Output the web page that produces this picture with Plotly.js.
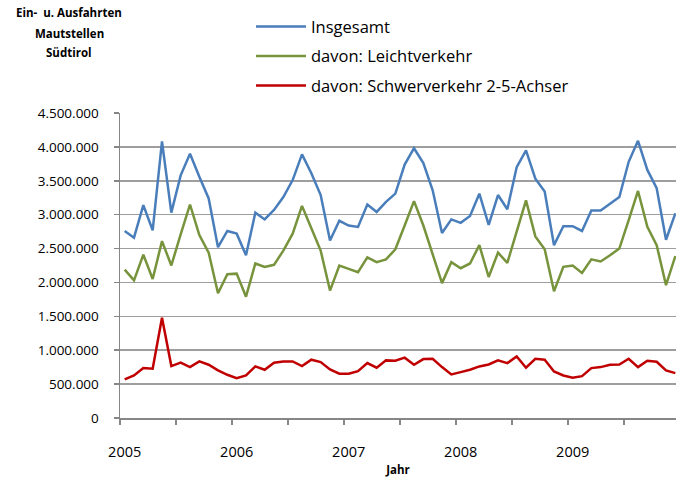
<!DOCTYPE html>
<html>
<head>
<meta charset="utf-8">
<script src="https://cdn.plot.ly/plotly-3.0.1.min.js"></script>
<style>html,body{margin:0;padding:0;background:#fff;}#chart{width:676px;height:491px;}</style>
</head>
<body>
<div id="chart"></div>
<script>
// Years shown on the axis (monthly data Jan 2005 – Dec 2009)
const years = ['2005', '2006', '2007', '2008', '2009'];

// Series values (monthly)
const insgesamt = [
  2760000, 2660000, 3140000, 2770000, 4080000, 3030000, 3580000, 3900000, 3560000, 3240000, 2520000, 2760000,
  2720000, 2400000, 3030000, 2930000, 3070000, 3260000, 3510000, 3890000, 3610000, 3290000, 2620000, 2910000,
  2840000, 2820000, 3150000, 3040000, 3190000, 3310000, 3740000, 3980000, 3760000, 3360000, 2730000, 2930000,
  2880000, 2980000, 3310000, 2850000, 3290000, 3080000, 3700000, 3950000, 3530000, 3340000, 2550000, 2830000,
  2830000, 2760000, 3060000, 3060000, 3160000, 3260000, 3780000, 4090000, 3660000, 3390000, 2630000, 3020000
];
const leichtverkehr = [
  2190000, 2030000, 2410000, 2050000, 2610000, 2250000, 2710000, 3150000, 2700000, 2440000, 1840000, 2120000,
  2130000, 1790000, 2280000, 2230000, 2260000, 2470000, 2720000, 3130000, 2800000, 2470000, 1880000, 2250000,
  2200000, 2150000, 2370000, 2300000, 2340000, 2490000, 2840000, 3200000, 2840000, 2430000, 1990000, 2300000,
  2210000, 2280000, 2550000, 2080000, 2440000, 2290000, 2750000, 3210000, 2680000, 2490000, 1870000, 2230000,
  2250000, 2140000, 2340000, 2310000, 2400000, 2500000, 2920000, 3350000, 2820000, 2550000, 1960000, 2390000
];
const schwerverkehr = [
  569000, 628000, 736000, 727000, 1480000, 766000, 816000, 751000, 835000, 786000, 702000, 638000,
  588000, 628000, 761000, 712000, 816000, 835000, 835000, 766000, 860000, 825000, 717000, 653000,
  653000, 692000, 810000, 742000, 850000, 845000, 890000, 786000, 869000, 874000, 751000, 643000,
  677000, 712000, 761000, 790000, 850000, 810000, 909000, 742000, 874000, 860000, 687000, 628000,
  594000, 618000, 736000, 751000, 786000, 790000, 874000, 751000, 845000, 830000, 702000, 662000
];

const seriesNames = ['Insgesamt', 'davon: Leichtverkehr', 'davon: Schwerverkehr 2-5-Achser'];
const seriesColors = ['#4A7EBB', '#77933C', '#C00000'];
const titleLines = ['Ein-  u. Ausfahrten', 'Mautstellen', 'Südtirol'];

// month index positions on the axis (category slots)
const monthIdx = insgesamt.map((_, i) => i);

// year labels at each January
const yearVals = years.map((_, i) => i * 12);

const FONT = '"Open Sans", Lato, sans-serif';

const traces = [insgesamt, leichtverkehr, schwerverkehr].map((y, k) => ({
  type: 'scatter',
  mode: 'lines',
  x: monthIdx,
  y: y,
  name: seriesNames[k],
  legendgroup: 'g' + k,
  line: {color: seriesColors[k], width: 2.5},
  hoverinfo: 'skip'
}));

const titleY = [1.331, 1.262, 1.200];
const annotations = titleLines.map((t, i) => ({
  text: '<b>' + t + '</b>',
  xref: 'paper', yref: 'paper',
  x: -0.091, y: titleY[i],
  xanchor: 'center', yanchor: 'middle',
  showarrow: false,
  font: {family: FONT, size: 11.5, color: '#000000'}
}));

const layout = {
  width: 676,
  height: 491,
  margin: {l: 120, r: 0, t: 113, b: 73, pad: 0, autoexpand: false},
  paper_bgcolor: '#ffffff',
  plot_bgcolor: '#ffffff',
  separators: ',.',
  font: {family: FONT, color: '#000000', size: 13},
  annotations: annotations,
  showlegend: true,
  legend: {
    x: 0.2356, xanchor: 'left',
    y: 1.34, yanchor: 'top',
    font: {family: FONT, size: 16.5, color: '#000000'},
    bgcolor: 'rgba(0,0,0,0)',
    borderwidth: 0,
    itemwidth: 50,
    tracegroupgap: 5
  },
  xaxis: {
    range: [-0.5, 59.07],
    tickmode: 'array',
    tickvals: yearVals,
    ticktext: years,
    tickangle: 0,
    ticks: '',
    ticklabelstandoff: 20,
    minor: {
      tick0: -0.5,
      dtick: 6,
      ticks: 'outside',
      ticklen: 5,
      tickwidth: 1.5,
      tickcolor: '#868686',
      showgrid: false
    },
    showline: true,
    linecolor: '#868686',
    linewidth: 1.5,
    showgrid: false,
    zeroline: false,
    automargin: false,
    tickfont: {family: FONT, size: 14.5, color: '#000000'},
    title: {text: '<b>Jahr</b>', font: {family: FONT, size: 11.5, color: '#000000'}, standoff: 6}
  },
  yaxis: {
    range: [0, 4500000],
    tickmode: 'linear',
    tick0: 0,
    dtick: 500000,
    tickformat: ',d',
    ticks: 'outside',
    ticklen: 5,
    tickwidth: 1.5,
    tickcolor: '#868686',
    ticklabelstandoff: 12,
    showline: true,
    linecolor: '#868686',
    linewidth: 1.5,
    showgrid: true,
    gridcolor: '#9e9e9e',
    gridwidth: 1.5,
    zeroline: false,
    automargin: false,
    tickfont: {family: FONT, size: 13.5, color: '#000000'}
  }
};

Plotly.newPlot('chart', traces, layout, {displayModeBar: false, staticPlot: true});
</script>
</body>
</html>
